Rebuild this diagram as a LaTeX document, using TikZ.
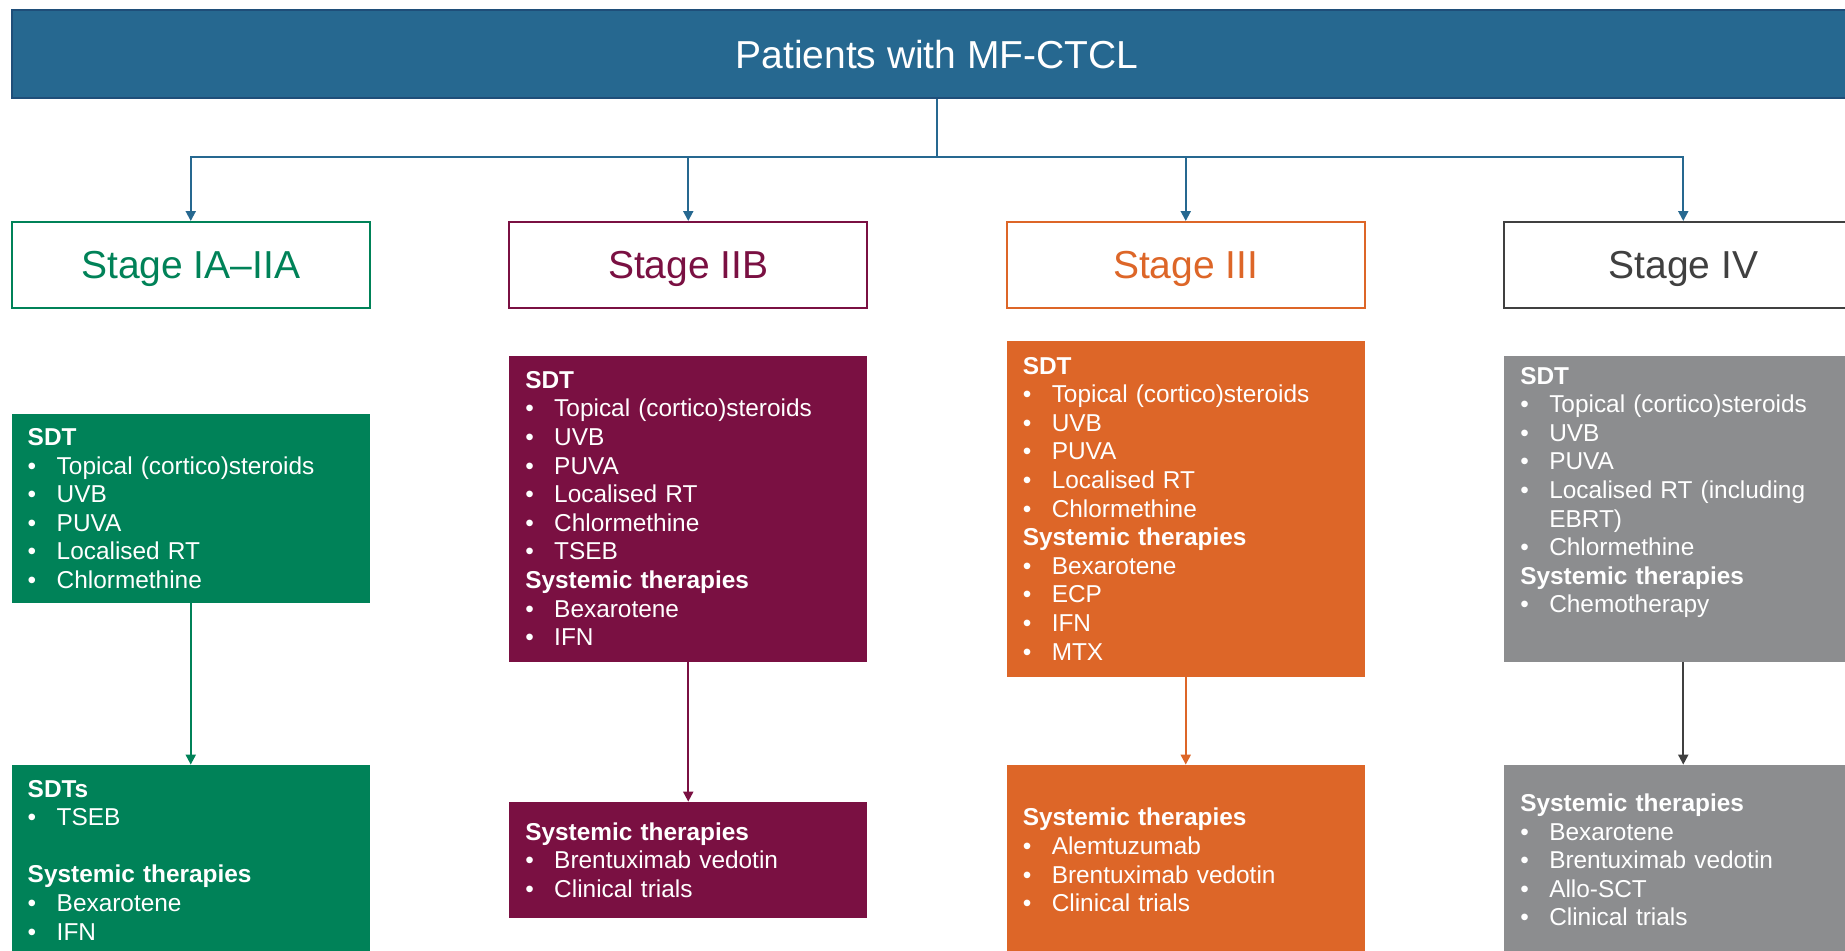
\documentclass[tikz,border=0pt]{standalone}
\usepackage{fontspec}
\setmainfont{Liberation Sans}
\usetikzlibrary{arrows.meta}

\definecolor{ctclblue}{RGB}{38,104,144}
\definecolor{ctclblueline}{RGB}{31,78,121}
\definecolor{stagegreen}{RGB}{0,130,88}
\definecolor{stagemaroon}{RGB}{122,16,66}
\definecolor{stageorange}{RGB}{221,102,40}
\definecolor{stagegrey}{RGB}{140,141,143}
\definecolor{stagedark}{RGB}{64,64,64}

\newcommand{\itm}[1]{\makebox[14.5pt][l]{\textbullet}#1}

\tikzset{
  rootbox/.style={fill=ctclblue, draw=ctclblueline, line width=1pt, text=white, text depth=0pt,
    minimum width=925pt, minimum height=44pt, font=\fontsize{19.5}{23}\selectfont},
  stagebox/.style={draw=#1, text=#1, fill=white, line width=1pt, text depth=0pt,
    minimum width=179pt, minimum height=43pt, font=\fontsize{19.5}{23}\selectfont},
  listbox/.style={fill=#1, text=white, text width=163pt, inner xsep=8pt,
    align=left, font=\fontsize{12.2}{14.3}\selectfont},
}

\begin{document}
\begin{tikzpicture}[x=0.5pt,y=0.5pt,grow=down,
    level 1/.style={sibling distance=248.75pt, level distance=105.5pt,
      edge from parent/.style={draw=ctclblue, line width=1pt, -{Triangle[length=5pt,width=5pt]}},
      edge from parent path={(\tikzparentnode.south) -- ++(0,-29pt) -| (\tikzchildnode.north)}},
    level 2/.style={level distance=121.75pt, edge from parent/.style={draw=none}},
    level 3/.style={level distance=175.75pt,
      edge from parent/.style={draw, line width=1pt, -{Triangle[length=5pt,width=5pt]}},
      edge from parent path={(\tikzparentnode.south) -- (\tikzchildnode.north)}},]
    \useasboundingbox (0,0) rectangle (1845,-950);
    \node (root) [rootbox] at (937,-54) {Patients with MF-CTCL}
     child {
        node (ia) [stagebox=stagegreen] {Stage IA–IIA}
        child {
            node (iasdt) [listbox=stagegreen, minimum height=94.5pt] {\textbf{SDT}\\
                \itm{Topical (cortico)steroids}\\ \itm{UVB}\\ \itm{PUVA}\\
                \itm{Localised RT}\\ \itm{Chlormethine}}
            child {
                node (iasys) [listbox=stagegreen, minimum height=95pt] {\textbf{SDTs}\\
                    \itm{TSEB}\\[14.3pt]
                    \textbf{Systemic therapies}\\ \itm{Bexarotene}\\ \itm{IFN}}
                edge from parent[draw=stagegreen]
            }
        }
     }
     child {
        node (iib) [stagebox=stagemaroon] {Stage IIB}
        child {
            node (iibsdt) [listbox=stagemaroon, minimum height=153pt] {\textbf{SDT}\\
                \itm{Topical (cortico)steroids}\\ \itm{UVB}\\ \itm{PUVA}\\
                \itm{Localised RT}\\ \itm{Chlormethine}\\ \itm{TSEB}\\
                \textbf{Systemic therapies}\\ \itm{Bexarotene}\\ \itm{IFN}}
            child {
                node (iibsys) [listbox=stagemaroon, minimum height=58pt] {\textbf{Systemic therapies}\\
                    \itm{Brentuximab vedotin}\\ \itm{Clinical trials}}
                edge from parent[draw=stagemaroon]
            }
        }
     }
     child {
        node (iii) [stagebox=stageorange] {Stage III}
        child {
            node (iiisdt) [listbox=stageorange, minimum height=168pt] {\textbf{SDT}\\
                \itm{Topical (cortico)steroids}\\ \itm{UVB}\\ \itm{PUVA}\\
                \itm{Localised RT}\\ \itm{Chlormethine}\\
                \textbf{Systemic therapies}\\ \itm{Bexarotene}\\ \itm{ECP}\\
                \itm{IFN}\\ \itm{MTX}}
            child {
                node (iiisys) [listbox=stageorange, minimum height=95pt] {\textbf{Systemic therapies}\\
                    \itm{Alemtuzumab}\\ \itm{Brentuximab vedotin}\\ \itm{Clinical trials}}
                edge from parent[draw=stageorange]
            }
        }
     }
     child {
        node (iv) [stagebox=stagedark] {Stage IV}
        child {
            node (ivsdt) [listbox=stagegrey, minimum height=153pt] {\textbf{SDT}\\
                \itm{Topical (cortico)steroids}\\ \itm{UVB}\\ \itm{PUVA}\\
                \itm{Localised RT (including}\\ \hspace*{14.5pt}EBRT)\\ \itm{Chlormethine}\\
                \textbf{Systemic therapies}\\ \itm{Chemotherapy}\\ \strut}
            child {
                node (ivsys) [listbox=stagegrey, minimum height=95pt] {\textbf{Systemic therapies}\\
                    \itm{Bexarotene}\\ \itm{Brentuximab vedotin}\\ \itm{Allo-SCT}\\
                    \itm{Clinical trials}}
                edge from parent[draw=stagedark]
            }
        }
     }
     ;

    \end{tikzpicture}
\end{document}
